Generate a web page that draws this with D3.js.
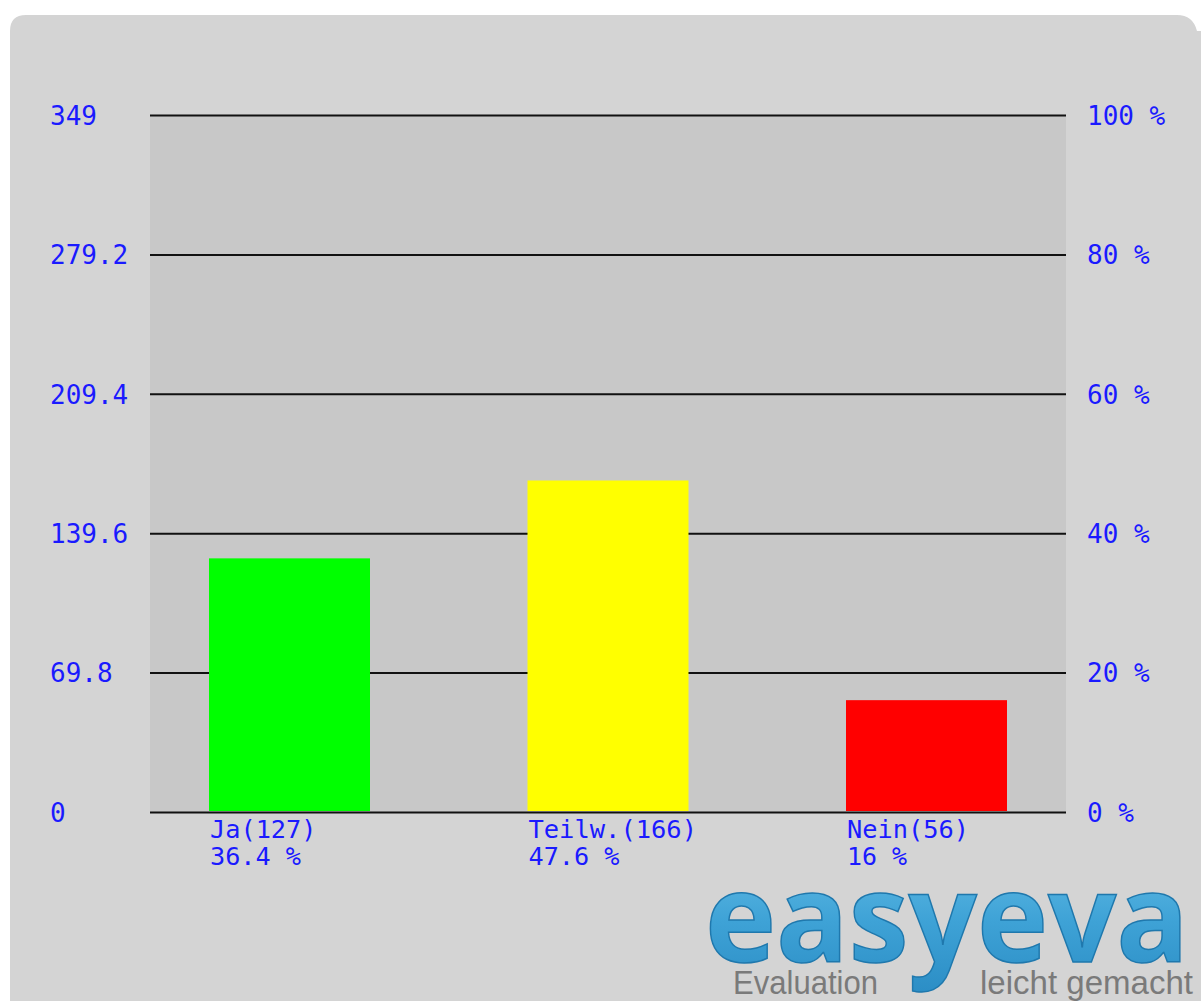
<!DOCTYPE html>
<html>
<head>
<meta charset="utf-8">
<script src="https://cdn.jsdelivr.net/npm/d3@7"></script>
<style>
  body { margin: 0; background: #fff; }
  svg { display: block; }
</style>
</head>
<body>
<div id="chart"></div>
<script>
// data
var categories = ['Ja', 'Teilw.', 'Nein']
var counts = [127, 166, 56]
var colors = ['#00ff00', '#ffff00', '#ff0000']
var leftTicks = [0, 69.8, 139.6, 209.4, 279.2, 349]
var rightTicks = [0, 20, 40, 60, 80, 100]

var total = d3.sum(counts)
var yMax = 349

var W = 1201
var H = 1001
var plot = { left: 150, right: 1066, top: 115, bottom: 812 }
var labelFont = '"DejaVu Sans Mono", "Liberation Mono", monospace'
var blue = '#1a1aff'

var svg = d3.select('#chart')
  .append('svg')
  .attr('width', W)
  .attr('height', H)

// panel with rounded top corners
var r = 16
var px0 = 10, py0 = 15, px1 = 1201, py1 = 1001
svg.append('path')
  .attr('d', `M${px0},${py1} L${px0},${py0 + r} Q${px0},${py0} ${px0 + r},${py0} L${px1 - r - 8},${py0} Q${px1 - 8},${py0} ${px1 - 4},${py0 + r} L${px1},${py0 + r} L${px1},${py1} Z`)
  .attr('fill', '#d4d4d4')

// plot background
svg.append('rect')
  .attr('x', plot.left)
  .attr('y', plot.top)
  .attr('width', plot.right - plot.left)
  .attr('height', plot.bottom - plot.top)
  .attr('fill', '#c8c8c8')

var y = d3.scaleLinear().domain([0, yMax]).range([plot.bottom, plot.top])
var yPct = d3.scaleLinear().domain([0, 100]).range([plot.bottom, plot.top])
var x = d3.scaleBand()
  .domain(categories)
  .range([209, 1007])
  .paddingInner(0.4945)
  .paddingOuter(0)

// grid lines + left labels via axis
var leftAxis = svg.append('g')
  .attr('transform', `translate(${plot.left},0)`)
  .call(d3.axisLeft(y).tickValues(leftTicks).tickSize(-(plot.right - plot.left)).tickFormat(d => String(d)))
leftAxis.select('.domain').remove()
leftAxis.selectAll('.tick line')
  .attr('stroke', '#111')
  .attr('stroke-width', 2)
leftAxis.selectAll('.tick text')
  .attr('x', 50 - plot.left)
  .attr('dy', '0.36em')
  .attr('text-anchor', 'start')
  .attr('fill', blue)
  .style('font-family', labelFont)
  .style('font-size', '26px')

var rightAxis = svg.append('g')
  .attr('transform', `translate(${plot.right},0)`)
  .call(d3.axisRight(yPct).tickValues(rightTicks).tickSize(0).tickFormat(d => d + ' %'))
rightAxis.select('.domain').remove()
rightAxis.selectAll('.tick text')
  .attr('x', 1087 - plot.right)
  .attr('dy', '0.36em')
  .attr('text-anchor', 'start')
  .attr('fill', blue)
  .style('font-family', labelFont)
  .style('font-size', '26px')

// bars
svg.append('g')
  .selectAll('rect')
  .data(categories)
  .enter()
  .append('rect')
  .attr('x', d => x(d))
  .attr('y', (d, i) => y(counts[i]))
  .attr('width', x.bandwidth())
  .attr('height', (d, i) => y(0) - y(counts[i]) - 1)
  .attr('fill', (d, i) => colors[i])

// category labels (name + count, then share)
var lab = svg.append('g')
  .selectAll('g')
  .data(categories)
  .enter()
  .append('g')
  .attr('fill', blue)
  .style('font-family', labelFont)
  .style('font-size', '24px')
lab.append('text')
  .attr('x', d => x(d) + 1)
  .attr('y', 838)
  .attr('textLength', (d, i) => `${d}(${counts[i]})`.length * 15.5 - 2)
  .attr('lengthAdjust', 'spacingAndGlyphs')
  .text((d, i) => `${d}(${counts[i]})`)
lab.append('text')
  .attr('x', d => x(d) + 1)
  .attr('y', 865)
  .attr('textLength', (d, i) => `${+(counts[i] / total * 100).toFixed(1)} %`.length * 15.5 - 2)
  .attr('lengthAdjust', 'spacingAndGlyphs')
  .text((d, i) => `${+(counts[i] / total * 100).toFixed(1)} %`)

// logo
var defs = svg.append('defs')
var grad = defs.append('linearGradient')
  .attr('id', 'logoGrad')
  .attr('x1', 0).attr('y1', 0).attr('x2', 0).attr('y2', 1)
grad.append('stop').attr('offset', '0%').attr('stop-color', '#6cc3ea')
grad.append('stop').attr('offset', '55%').attr('stop-color', '#3ea2d6')
grad.append('stop').attr('offset', '100%').attr('stop-color', '#2a8cc4')

svg.append('text')
  .attr('x', 705)
  .attr('y', 962)
  .attr('textLength', 484)
  .attr('lengthAdjust', 'spacingAndGlyphs')
  .attr('fill', 'url(#logoGrad)')
  .attr('stroke', '#1f78ad')
  .attr('stroke-width', 1.5)
  .style('font-family', '"Open Sans", "DejaVu Sans", sans-serif')
  .style('font-weight', 700)
  .style('font-size', '124px')
  .text('easyeva')

svg.append('text')
  .attr('x', 733)
  .attr('y', 994)
  .attr('textLength', 145)
  .attr('lengthAdjust', 'spacingAndGlyphs')
  .attr('fill', '#7a7a7a')
  .style('font-family', '"Liberation Sans", "DejaVu Sans", sans-serif')
  .style('font-size', '33px')
  .text('Evaluation')

svg.append('text')
  .attr('x', 980)
  .attr('y', 994)
  .attr('textLength', 213)
  .attr('lengthAdjust', 'spacingAndGlyphs')
  .attr('fill', '#7a7a7a')
  .style('font-family', '"Liberation Sans", "DejaVu Sans", sans-serif')
  .style('font-size', '33px')
  .text('leicht gemacht')
</script>
</body>
</html>
